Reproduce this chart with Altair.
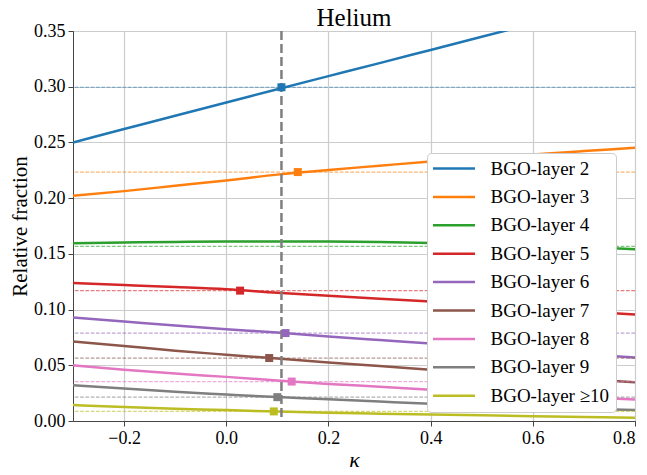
import altair as alt
import pandas as pd

# ---------------- data ----------------
chart_title = ["Helium"]

kappa = [-0.3, -0.2, -0.1, 0.0, 0.1, 0.2, 0.3, 0.4, 0.5, 0.6, 0.7, 0.8]

layers = ["BGO-layer 2", "BGO-layer 3", "BGO-layer 4", "BGO-layer 5", "BGO-layer 6",
          "BGO-layer 7", "BGO-layer 8", "BGO-layer 9", "BGO-layer ≥10"]
colors = ["#1f77b4", "#ff7f0e", "#2ca02c", "#d62728", "#9467bd",
          "#8c564b", "#e377c2", "#7f7f7f", "#bcbd22"]

frac_l2 = [0.2500, 0.2620, 0.2740, 0.2858, 0.2978, 0.3095, 0.3212, 0.3330, 0.3448, 0.3566, 0.3684, 0.3802]
frac_l3 = [0.2021, 0.2063, 0.2111, 0.2159, 0.2211, 0.2253, 0.2291, 0.2329, 0.2361, 0.2392, 0.2422, 0.2452]
frac_l4 = [0.1595, 0.1602, 0.1607, 0.1610, 0.1612, 0.1611, 0.1606, 0.1598, 0.1588, 0.1575, 0.1559, 0.1542]
frac_l5 = [0.1238, 0.1220, 0.1202, 0.1182, 0.1151, 0.1125, 0.1098, 0.1072, 0.1043, 0.1013, 0.0984, 0.0955]
frac_l6 = [0.0929, 0.0893, 0.0857, 0.0824, 0.0794, 0.0759, 0.0727, 0.0696, 0.0663, 0.0630, 0.0599, 0.0569]
frac_l7 = [0.0714, 0.0673, 0.0631, 0.0595, 0.0561, 0.0524, 0.0494, 0.0461, 0.0432, 0.0402, 0.0375, 0.0348]
frac_l8 = [0.0500, 0.0461, 0.0426, 0.0396, 0.0364, 0.0333, 0.0308, 0.0281, 0.0258, 0.0235, 0.0214, 0.0194]
frac_l9 = [0.0321, 0.0292, 0.0262, 0.0238, 0.0215, 0.0196, 0.0175, 0.0154, 0.0138, 0.0123, 0.0110, 0.0098]
frac_l10 = [0.0143, 0.0125, 0.0110, 0.0098, 0.0085, 0.0074, 0.0066, 0.0059, 0.0051, 0.0043, 0.0036, 0.0030]

# reference (dashed) fractions and the kappa where each curve meets them
ref_fraction = [0.2995, 0.2234, 0.1568, 0.1170, 0.0789, 0.0565, 0.0354, 0.0214, 0.0086]
ref_kappa = [0.108, 0.140, 0.620, 0.027, 0.116, 0.084, 0.128, 0.100, 0.093]

kappa_cut = 0.108

x_ticks = [-0.2, 0.0, 0.2, 0.4, 0.6, 0.8]
y_ticks = [0.0, 0.05, 0.10, 0.15, 0.20, 0.25, 0.30, 0.35]

# ---------------- tables ----------------
series = [frac_l2, frac_l3, frac_l4, frac_l5, frac_l6, frac_l7, frac_l8, frac_l9, frac_l10]
rows = []
for name, vals in zip(layers, series):
    for k, v in zip(kappa, vals):
        rows.append({"layer": name, "kappa": k, "fraction": v})
df_lines = pd.DataFrame(rows)
df_ref = pd.DataFrame({"layer": layers, "kappa": ref_kappa, "fraction": ref_fraction})
df_cut = pd.DataFrame({"kappa": [kappa_cut]})
df_title = pd.DataFrame({"title": chart_title})

SERIF = "Liberation Serif"
W, H = 562, 390

x_scale = alt.Scale(domain=[-0.3, 0.8], nice=False, zero=False)
y_scale = alt.Scale(domain=[0, 0.35], nice=False, zero=False)
color_scale = alt.Scale(domain=layers, range=colors)

axis_common = dict(
    labelFont=SERIF, labelFontSize=18, labelColor="black",
    titleFont=SERIF, titleFontWeight="normal", titleColor="black",
    gridColor="#cccccc", gridWidth=1.2,
    domainColor="#444444", tickColor="#444444", tickSize=5, labelPadding=3,
)

x_enc = alt.X("kappa:Q", scale=x_scale,
              axis=alt.Axis(title="κ", values=x_ticks, format=".1f",
                            titleFontStyle="italic", titleFontSize=22,
                            titlePadding=2, **axis_common))
y_enc = alt.Y("fraction:Q", scale=y_scale,
              axis=alt.Axis(title="Relative fraction", values=y_ticks, format=".2f",
                            titleFontSize=21, titlePadding=3, **axis_common))

lines = alt.Chart(df_lines).mark_line(strokeWidth=2.5, clip=True, interpolate="monotone").encode(
    x=x_enc,
    y=y_enc,
    color=alt.Color("layer:N", scale=color_scale, sort=layers,
                    legend=alt.Legend(
                        title=None, orient="none", legendX=354, legendY=122,
                        fillColor="white", strokeColor="#cccccc",
                        cornerRadius=4, padding=6,
                        symbolType="M-2.625,0H2.625", symbolSize=256,
                        symbolStrokeWidth=2.5, symbolOffset=11.5,
                        labelOffset=27, rowPadding=8.4,
                        labelFont=SERIF, labelFontSize=19, labelColor="black",
                        labelLimit=300)),
)

refs = alt.Chart(df_ref).mark_rule(strokeWidth=1.2, strokeDash=[3.7, 1.6], opacity=0.6).encode(
    y=y_enc,
    color=alt.Color("layer:N", scale=color_scale, legend=None),
)

cut = alt.Chart(df_cut).mark_rule(color="#7f7f7f", strokeWidth=2.5, strokeDash=[9, 4]).encode(
    x=x_enc,
)

markers = alt.Chart(df_ref).mark_square(size=64, opacity=1, filled=True).encode(
    x=x_enc,
    y=y_enc,
    color=alt.Color("layer:N", scale=color_scale, legend=None),
)

title_text = alt.Chart(df_title).mark_text(
    font=SERIF, fontSize=25, color="black", align="center", baseline="alphabetic",
).encode(
    text="title:N",
    x=alt.value(W / 2),
    y=alt.value(-5),
)

chart = alt.layer(lines, refs, cut, markers, title_text).properties(
    width=W, height=H,
    autosize=alt.AutoSizeParams(type="none"),
    padding={"left": 65, "top": 23, "right": 4, "bottom": 60},
).configure(
    font=SERIF,
).configure_axis(
    labelFont=SERIF, titleFont=SERIF,
).configure_view(
    stroke="#444444", strokeWidth=1,
)

chart.save("out.html", embed_options={"renderer": "svg", "actions": False})
